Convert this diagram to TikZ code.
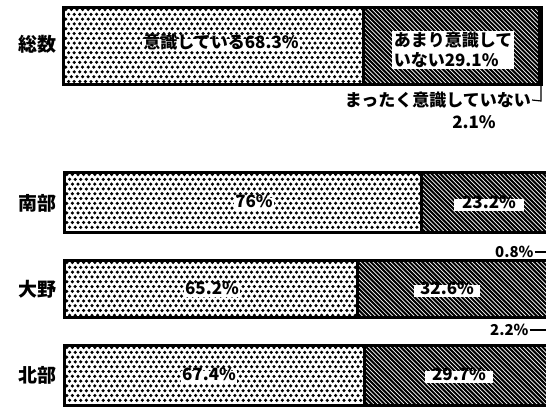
\documentclass[tikz,border=0pt]{standalone}
\usepackage{fontspec}
\setmainfont{Noto Sans CJK JP}
\tikzset{
  barline/.style={line width=3pt},
  dotmark/.style={fill=black},
  hatchline/.style={line width=2pt},
  rowlab/.style={font=\bfseries\fontsize{19pt}{22pt}\selectfont, inner sep=0pt},
  inlab/.style={font=\bfseries\fontsize{17pt}{20pt}\selectfont, fill=white, inner sep=1.5pt, text height=0.8em, text depth=0.15em},
  outlab/.style={font=\bfseries\fontsize{17pt}{20pt}\selectfont, inner sep=1pt},
  smalllab/.style={font=\bfseries\fontsize{15pt}{18pt}\selectfont, inner sep=1pt},
}
\newcommand\mydots[4]{%
  \begin{scope}
  \clip (#1,#2) rectangle (#3,#4);
  \pgfmathsetmacro\dya{#2+2.5}\pgfmathsetmacro\dyb{#2+7.3}%
  \pgfmathsetmacro\dxa{#1}\pgfmathsetmacro\dxb{#1+5.6}%
  \foreach \yy [count=\k] in {\dya,\dyb,...,#4}{%
    \pgfmathsetmacro\off{mod(\k,2)*2.8}%
    \foreach \xx in {\dxa,\dxb,...,#3}{\fill[dotmark] (\xx+\off,\yy) circle[radius=1.75pt];}%
  }
  \end{scope}}
\newcommand\myhatch[4]{%
  \begin{scope}
  \clip (#1,#2) rectangle (#3,#4);
  \pgfmathsetmacro\hh{#4-#2}%
  \pgfmathsetmacro\hxa{#1-\hh}\pgfmathsetmacro\hxb{#1-\hh+4.3}%
  \foreach \xx in {\hxa,\hxb,...,#3}{\draw[hatchline] (\xx,#2) -- ++(\hh,\hh);}%
  \end{scope}}
\begin{document}
\begin{tikzpicture}[x=1pt,y=-1pt]
\clip (0,0) rectangle (546,410);
\fill[white] (0,0) rectangle (546,410);

% total bar
\mydots{63}{7}{363}{84}
\myhatch{363}{7}{538}{84}
\fill[black] (538,7) rectangle (541,84);
\draw[barline] (63,7) rectangle (541,84);
\draw[barline] (363,7) -- (363,84);
\node[rowlab] (r0) at (37,44) {総数};
\node[inlab] (t0a) at (221,45) {意識している68.3\%};
\node[inlab, align=left, text height=, text depth=] (t0b) at (453,50) {あまり意識して\\いない29.1\%};
\coordinate (brtop) at (541,84);
\coordinate (brbend) at (541,101);
\node[outlab, anchor=east] (t0c) at (532,100) {まったく意識していない};
\draw[line width=1.2pt] (brtop) -- (brbend) -- (t0c.east);
\node[outlab] (t0d) at (474,122) {2.1\%};

% 南部
\mydots{64}{172}{421}{232}
\myhatch{421}{172}{560}{232}
\draw[barline] (64,172) rectangle (560,232);
\draw[barline] (421,172) -- (421,232);
\node[rowlab] (r1) at (38,203) {南部};
\node[inlab] (t1a) at (254,204) {76\%};
\node[inlab, minimum width=70pt] (t1b) at (489,205) {23.2\%};
\node[smalllab, anchor=west] (t1c) at (494,252) {0.8\%};
\coordinate (e1) at (546,252);
\draw[line width=1.6pt] (t1c.east) -- (e1);

% 大野
\mydots{64}{260}{357}{317}
\myhatch{357}{260}{560}{317}
\draw[barline] (64,260) rectangle (560,317);
\draw[barline] (357,260) -- (357,317);
\node[rowlab] (r2) at (38,289) {大野};
\node[inlab] (t2a) at (212,291) {65.2\%};
\node[inlab, minimum width=66pt] (t2b) at (447,291) {32.6\%};
\node[smalllab, anchor=west] (t2c) at (489,330) {2.2\%};
\coordinate (e2) at (546,330);
\draw[line width=1.6pt] (t2c.east) -- (e2);

% 北部
\mydots{64}{345}{364}{405}
\myhatch{364}{345}{560}{405}
\draw[barline] (64,345) rectangle (560,405);
\draw[barline] (364,345) -- (364,405);
\node[rowlab] (r3) at (38,375) {北部};
\node[inlab] (t3a) at (209,377) {67.4\%};
\node[inlab, minimum width=68pt] (t3b) at (459,377) {29.7\%};
\end{tikzpicture}
\end{document}
